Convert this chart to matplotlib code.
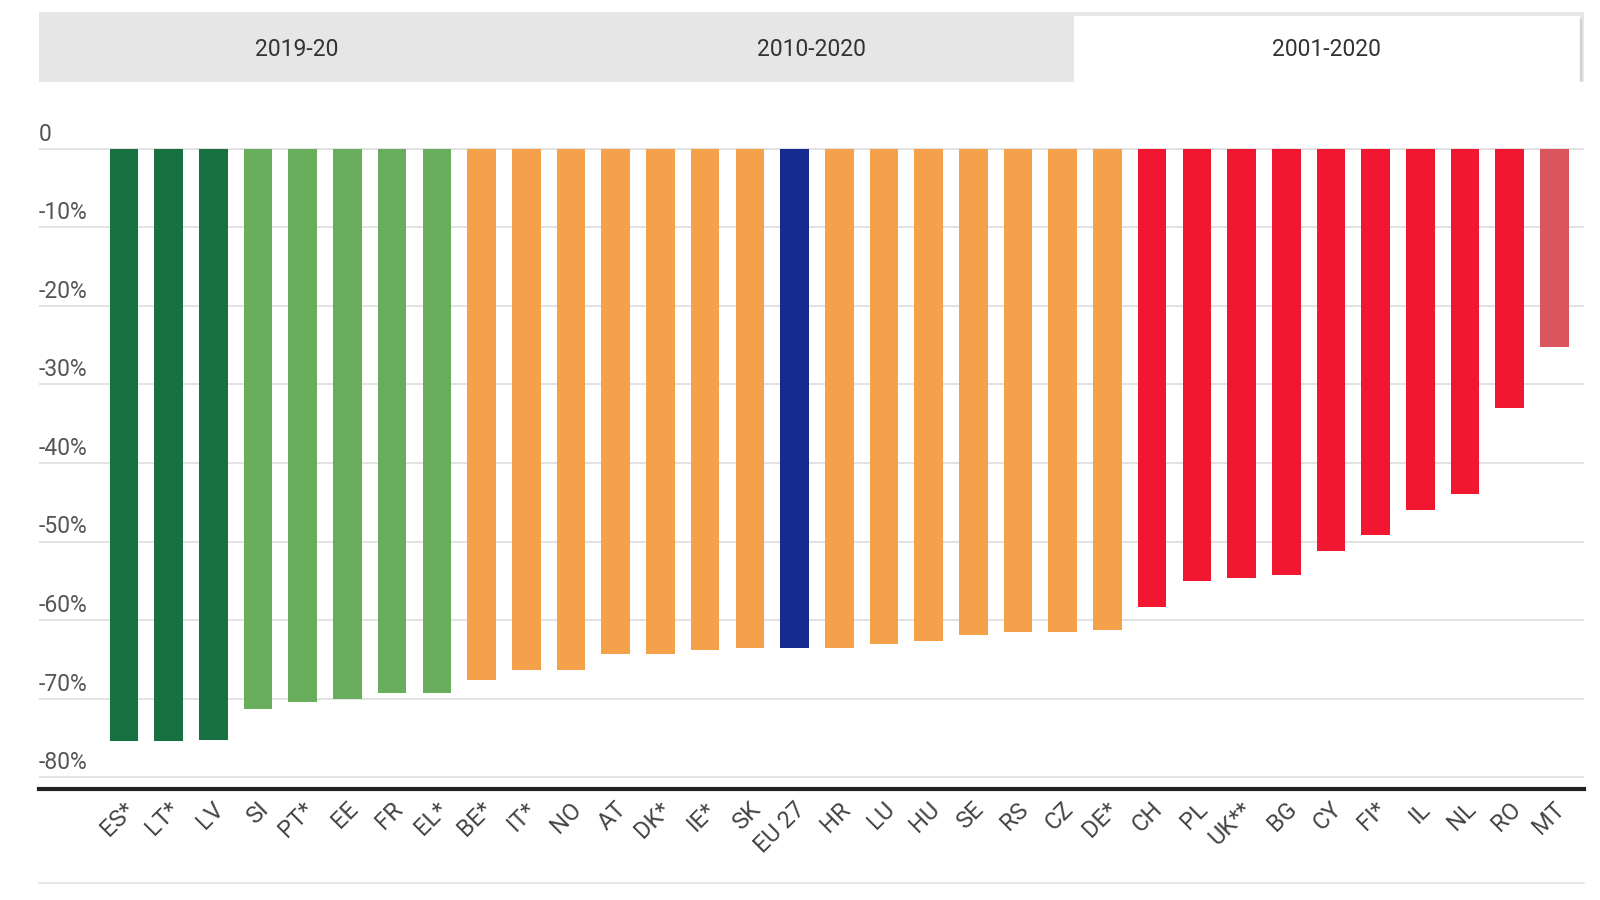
import matplotlib.pyplot as plt
from matplotlib.patches import Rectangle
from matplotlib.transforms import blended_transform_factory, ScaledTranslation

plt.rcParams['font.family'] = ['Roboto', 'DejaVu Sans']

# 国家代码和数值（百分比变化，2001-2020）
countries = ['ES*', 'LT*', 'LV', 'SI', 'PT*', 'EE', 'FR', 'EL*', 'BE*', 'IT*', 'NO',
             'AT', 'DK*', 'IE*', 'SK', 'EU 27', 'HR', 'LU', 'HU', 'SE', 'RS', 'CZ',
             'DE*', 'CH', 'PL', 'UK**', 'BG', 'CY', 'FI*', 'IL', 'NL', 'RO', 'MT']
values = [-75.4, -75.4, -75.2, -71.3, -70.4, -70.0, -69.3, -69.3, -67.6, -66.4, -66.4,
          -64.3, -64.3, -63.8, -63.5, -63.6, -63.6, -63.1, -62.7, -61.9, -61.5, -61.5,
          -61.2, -58.3, -55.0, -54.6, -54.3, -51.2, -49.1, -46.0, -43.9, -33.0, -25.2]
groups = ['dg'] * 3 + ['lg'] * 5 + ['or'] * 7 + ['eu'] + ['or'] * 7 + ['rd'] * 9 + ['mt']

tabs = ['2019-20', '2010-2020', '2001-2020']
y_ticks = [0, -10, -20, -30, -40, -50, -60, -70, -80]

# 颜色
COLORS = {
    'dg': '#17703f',
    'lg': '#68ad5b',
    'or': '#f5a14b',
    'eu': '#172a8f',
    'rd': '#f11731',
    'mt': '#d9565e',
}

W, H = 1600, 900
fig = plt.figure(figsize=(16, 9), dpi=100)


def px(x0, y0, x1, y1):
    """像素坐标 -> figure 坐标 [left, bottom, width, height]"""
    return [x0 / W, 1 - y1 / H, (x1 - x0) / W, (y1 - y0) / H]


# 顶部选项卡
l, b, w, h = px(39, 12, 1584, 82)
fig.patches.append(Rectangle((l, b), w, h, transform=fig.transFigure,
                             facecolor='#e6e6e6', edgecolor='none', zorder=0))
l, b, w, h = px(1074, 16, 1580, 84)
fig.patches.append(Rectangle((l, b), w, h, transform=fig.transFigure,
                             facecolor='white', edgecolor='none', zorder=1))
# 选中选项卡右侧的细边
fig.add_artist(plt.Line2D([1581 / W, 1581 / W], [1 - 20 / H, 1 - 80 / H],
                          color='#d0d0d0', linewidth=1.5))
for cx, label in zip([297, 811, 1326], tabs):
    fig.text(cx / W, 1 - 49 / H, label, ha='center', va='center',
             fontsize=16.5, color='#333333')

# 主图
ax = fig.add_axes(px(39, 141, 1584, 789))
x = list(range(len(countries)))
ax.bar(x, values, width=0.64, color=[COLORS[g] for g in groups], zorder=3)

ax.set_xlim(-1.9, 32.66)
ax.set_ylim(-81.5, 1)

for s in ['top', 'left', 'right']:
    ax.spines[s].set_visible(False)
ax.spines['bottom'].set_color('#222222')
ax.spines['bottom'].set_linewidth(3)

# 网格线和 y 轴标签（标签在网格线上方）
ax.set_yticks([])
trans = blended_transform_factory(ax.transAxes, ax.transData)
for v in y_ticks:
    ax.axhline(v, color='#dddddd', linewidth=1.2, zorder=1)
    ax.text(0, v + 0.4, '0' if v == 0 else f'{v}%', transform=trans,
            ha='left', va='bottom', fontsize=16.5, color='#555555')

ax.set_xticks(x)
ax.set_xticklabels(countries, rotation=45, ha='right', va='center',
                   rotation_mode='anchor', fontsize=17, color='#444444')
ax.tick_params(axis='x', length=0, pad=12)
# 标签整体右移一点
shift = ScaledTranslation(7 / 100, 0, fig.dpi_scale_trans)
for lbl in ax.get_xticklabels():
    lbl.set_transform(lbl.get_transform() + shift)

# 底部浅灰线
fig.add_artist(plt.Line2D([39 / W, 1584 / W], [1 - 883 / H, 1 - 883 / H],
                          color='#e3e3e3', linewidth=1.2))

fig.savefig('out.png', dpi=100, facecolor='white')
